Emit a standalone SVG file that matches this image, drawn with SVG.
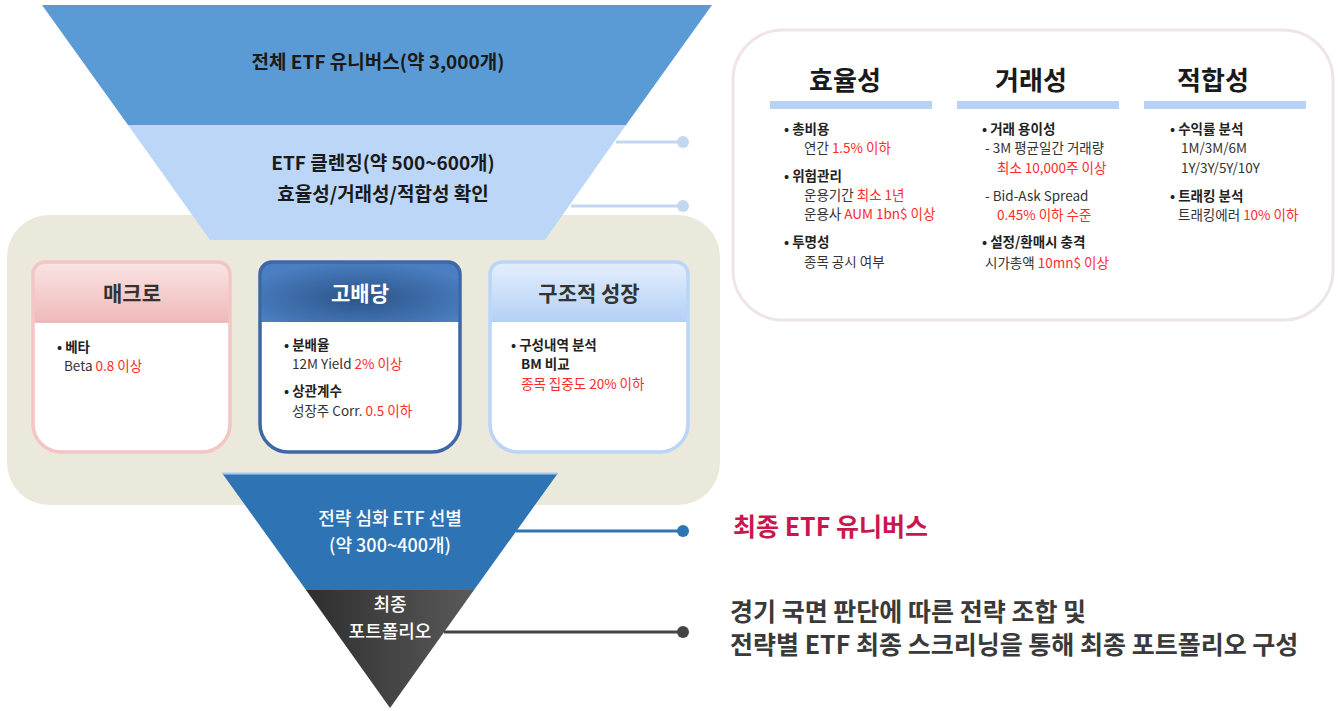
<svg xmlns="http://www.w3.org/2000/svg" width="1338" height="711" viewBox="0 0 1338 711">
<style>
text{font-family:"Noto Sans CJK KR","Noto Sans",sans-serif;fill:#333}
.fh{font-size:19px;font-weight:700;fill:#1a1a1a}
.ft{font-size:18px;font-weight:500;fill:#fff}
.ct{font-size:21px;font-weight:700;text-anchor:middle}
.cb{font-size:13.5px;font-weight:700;fill:#222}
.cn{font-size:13.5px;fill:#333}
.ph{font-size:26px;font-weight:700;text-anchor:middle;fill:#1a1a1a}
.pb{font-size:13.5px;font-weight:700;fill:#222}
.pn{font-size:13.5px;fill:#333}
.big{font-size:25px;font-weight:700}
text.r,tspan.r{fill:#ff2a2a}
</style>
<defs>
<linearGradient id="gPink" x1="0" y1="0" x2="0" y2="1"><stop offset="0" stop-color="#fae4e4"/><stop offset="1" stop-color="#f0b9b9"/></linearGradient>
<radialGradient id="gNavy" cx="0.5" cy="0.6" r="0.6"><stop offset="0" stop-color="#2c5489"/><stop offset="1" stop-color="#4a7fc1"/></radialGradient>
<linearGradient id="gSky" x1="0" y1="0" x2="0" y2="1"><stop offset="0" stop-color="#e4effd"/><stop offset="1" stop-color="#b3d0f6"/></linearGradient>
<linearGradient id="gDark" x1="0" y1="0" x2="1" y2="0"><stop offset="0" stop-color="#2e2e2e"/><stop offset="1" stop-color="#5a5a5a"/></linearGradient>
<clipPath id="c1"><path d="M45,262 H218 A12,12 0 0 1 230,274 V424 A28,28 0 0 1 202,452 H61 A28,28 0 0 1 33,424 V274 A12,12 0 0 1 45,262 Z"/></clipPath>
<clipPath id="c2"><path d="M272,262 H448 A12,12 0 0 1 460,274 V424 A28,28 0 0 1 432,452 H288 A28,28 0 0 1 260,424 V274 A12,12 0 0 1 272,262 Z"/></clipPath>
<clipPath id="c3"><path d="M502,262 H676 A12,12 0 0 1 688,274 V424 A28,28 0 0 1 660,452 H518 A28,28 0 0 1 490,424 V274 A12,12 0 0 1 502,262 Z"/></clipPath>
</defs>

<rect id="strategy-panel" x="7" y="215" width="713" height="290" rx="42" fill="#ebe8dc"/>

<g id="funnel-all">
<polygon points="42,5 712,5 626,125 128,125" fill="#5b9bd5"/>
<text class="fh" x="378" y="69" text-anchor="middle">전체 ETF 유니버스(약 3,000개)</text>
</g>
<g id="funnel-cleansing">
<polygon points="128,125 626,125 545,240 210,240" fill="#bcd6f7"/>
<text class="fh" x="383" y="170" text-anchor="middle">ETF 클렌징(약 500~600개)</text>
<text class="fh" x="383" y="201" text-anchor="middle">효율성/거래성/적합성 확인</text>
</g>

<g id="card-macro">
<path d="M45,262 H218 A12,12 0 0 1 230,274 V424 A28,28 0 0 1 202,452 H61 A28,28 0 0 1 33,424 V274 A12,12 0 0 1 45,262 Z" fill="#fff"/>
<rect x="33" y="262" width="197" height="60" fill="url(#gPink)" clip-path="url(#c1)"/>
<line x1="33" y1="322" x2="230" y2="322" stroke="#ebb0b0" stroke-width="1.5"/>
<path d="M45,262 H218 A12,12 0 0 1 230,274 V424 A28,28 0 0 1 202,452 H61 A28,28 0 0 1 33,424 V274 A12,12 0 0 1 45,262 Z" fill="none" stroke="#f3c5c5" stroke-width="3.5"/>
<text class="ct" x="132" y="301" fill="#1a1a1a">매크로</text>
<text class="cb" x="57" y="352">• 베타</text>
<text class="cn" x="64" y="371">Beta <tspan class="r">0.8 이상</tspan></text>
</g>

<g id="card-dividend">
<path d="M272,262 H448 A12,12 0 0 1 460,274 V424 A28,28 0 0 1 432,452 H288 A28,28 0 0 1 260,424 V274 A12,12 0 0 1 272,262 Z" fill="#fff"/>
<rect x="260" y="262" width="200" height="60" fill="url(#gNavy)" clip-path="url(#c2)"/>
<path d="M272,262 H448 A12,12 0 0 1 460,274 V424 A28,28 0 0 1 432,452 H288 A28,28 0 0 1 260,424 V274 A12,12 0 0 1 272,262 Z" fill="none" stroke="#3c68a6" stroke-width="3.5"/>
<text class="ct" x="360" y="301" style="fill:#fff">고배당</text>
<text class="cb" x="284" y="350">• 분배율</text>
<text class="cn" x="292" y="369">12M Yield <tspan class="r">2% 이상</tspan></text>
<text class="cb" x="284" y="396">• 상관계수</text>
<text class="cn" x="292" y="416">성장주 Corr. <tspan class="r">0.5 이하</tspan></text>
</g>

<g id="card-growth">
<path d="M502,262 H676 A12,12 0 0 1 688,274 V424 A28,28 0 0 1 660,452 H518 A28,28 0 0 1 490,424 V274 A12,12 0 0 1 502,262 Z" fill="#fff"/>
<rect x="490" y="262" width="198" height="60" fill="url(#gSky)" clip-path="url(#c3)"/>
<path d="M502,262 H676 A12,12 0 0 1 688,274 V424 A28,28 0 0 1 660,452 H518 A28,28 0 0 1 490,424 V274 A12,12 0 0 1 502,262 Z" fill="none" stroke="#bad5f7" stroke-width="3.5"/>
<text class="ct" x="589" y="301" fill="#1a1a1a">구조적 성장</text>
<text class="cb" x="511" y="350">• 구성내역 분석</text>
<text class="cb" x="521" y="369">BM 비교</text>
<text class="cn r" x="521" y="389">종목 집중도 20% 이하</text>
</g>

<g id="funnel-strategy">
<polygon points="222,473 558,473 474,590 306,590" fill="#2e74b5"/>
<line x1="222" y1="473.5" x2="558" y2="473.5" stroke="#a9c9ec" stroke-width="2"/>
<text class="ft" x="390" y="525" text-anchor="middle">전략 심화 ETF 선별</text>
<text class="ft" x="390" y="552" text-anchor="middle">(약 300~400개)</text>
</g>
<g id="funnel-final">
<polygon points="306,590 474,590 390,708" fill="url(#gDark)"/>
<text class="ft" x="390" y="611" text-anchor="middle">최종</text>
<text class="ft" x="390" y="638" text-anchor="middle">포트폴리오</text>
</g>

<g id="connectors">
<line x1="616" y1="142" x2="683" y2="142" stroke="#c2d7f1" stroke-width="3"/>
<circle cx="683" cy="142" r="6" fill="#c2d7f1"/>
<line x1="571" y1="206" x2="683" y2="206" stroke="#c2d7f1" stroke-width="3"/>
<circle cx="683" cy="206" r="6" fill="#c2d7f1"/>
<line x1="516" y1="531" x2="683" y2="531" stroke="#2e75b6" stroke-width="3"/>
<circle cx="683" cy="531" r="6" fill="#2e75b6"/>
<line x1="444" y1="632" x2="683" y2="632" stroke="#444" stroke-width="3"/>
<circle cx="683" cy="632" r="6" fill="#444"/>
</g>

<g id="criteria-panel">
<rect x="733" y="30" width="600" height="290" rx="50" fill="#fff" stroke="#efe5e5" stroke-width="3"/>
<text class="ph" x="845" y="90">효율성</text>
<rect x="770" y="101" width="162" height="8" fill="#b8d2f5"/>
<text class="ph" x="1031" y="90">거래성</text>
<rect x="957" y="101" width="162" height="8" fill="#b8d2f5"/>
<text class="ph" x="1213" y="90">적합성</text>
<rect x="1144" y="101" width="162" height="8" fill="#b8d2f5"/>

<text class="pb" x="784" y="134">• 총비용</text>
<text class="pn" x="804" y="153">연간 <tspan class="r">1.5% 이하</tspan></text>
<text class="pb" x="784" y="181">• 위험관리</text>
<text class="pn" x="804" y="200">운용기간 <tspan class="r">최소 1년</tspan></text>
<text class="pn" x="804" y="219">운용사 <tspan class="r">AUM 1bn$ 이상</tspan></text>
<text class="pb" x="784" y="247">• 투명성</text>
<text class="pn" x="804" y="267">종목 공시 여부</text>

<text class="pb" x="982" y="134">• 거래 용이성</text>
<text class="pn" x="985" y="153">- 3M 평균일간 거래량</text>
<text class="pn r" x="997" y="173">최소 10,000주 이상</text>
<text class="pn" x="985" y="201">- Bid-Ask Spread</text>
<text class="pn r" x="997" y="220">0.45% 이하 수준</text>
<text class="pb" x="982" y="247">• 설정/환매시 충격</text>
<text class="pn" x="985" y="268">시가총액 <tspan class="r">10mn$ 이상</tspan></text>

<text class="pb" x="1170" y="134">•  수익률 분석</text>
<text class="pn" x="1181" y="153">1M/3M/6M</text>
<text class="pn" x="1181" y="173">1Y/3Y/5Y/10Y</text>
<text class="pb" x="1170" y="201">• 트래킹 분석</text>
<text class="pn" x="1178" y="220">트래킹에러 <tspan class="r">10% 이하</tspan></text>
</g>

<g id="label-universe">
<text class="big" x="733" y="536" style="fill:#c8174e">최종 ETF 유니버스</text>
</g>
<g id="label-portfolio">
<text class="big" x="730" y="621" style="fill:#3a3a3a">경기 국면 판단에 따른 전략 조합 및</text>
<text class="big" x="730" y="654" style="fill:#3a3a3a">전략별 ETF 최종 스크리닝을 통해 최종 포트폴리오 구성</text>
</g>
</svg>
